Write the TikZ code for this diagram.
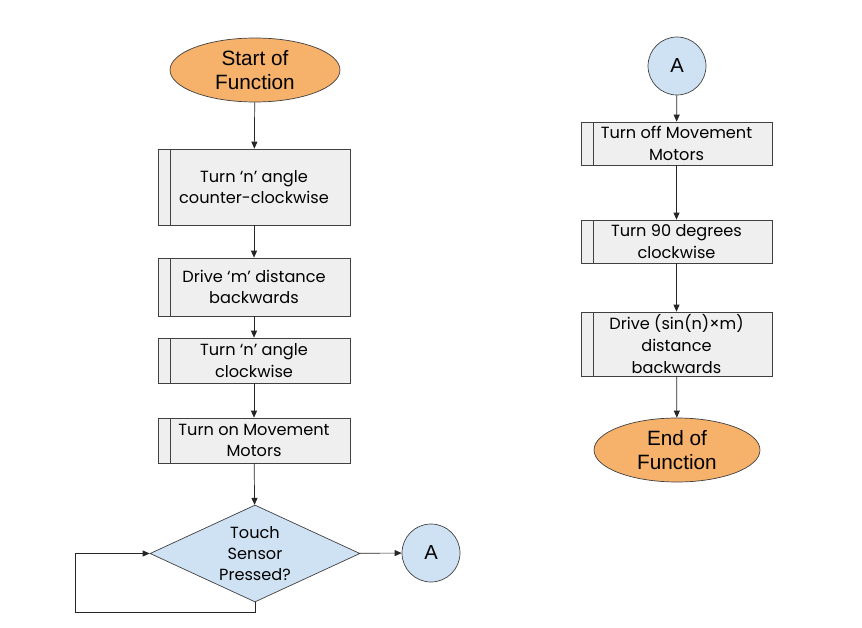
\documentclass[tikz,border=0pt]{standalone}
\usepackage{fontspec}
\setmainfont{Liberation Sans}
\newfontfamily\boxfont{Poppins}
\usepackage{xcolor}
\usetikzlibrary{
    positioning,
    arrows.meta,
    shapes.geometric,
    shapes.misc,
}
\definecolor{termfill}{HTML}{F6B26B}
\definecolor{decfill}{HTML}{CFE2F3}
\definecolor{procfill}{HTML}{EFEFEF}
\definecolor{edge}{HTML}{404040}
\tikzset{
    % Node styles
    terminal/.style={ellipse, draw=edge, fill=termfill, inner sep=0pt,
                     align=center, font=\fontsize{11.8}{13.5}\selectfont},
    connector/.style={circle, draw=edge, fill=decfill, inner sep=0pt,
                      minimum size=1.16cm, font=\fontsize{11.5}{12}\selectfont},
    decision/.style={diamond, draw=edge, fill=decfill, inner sep=-3pt, aspect=2.16,
                     align=center, font=\boxfont\fontsize{9.2}{12}\selectfont},
    process/.style={rectangle, draw=edge, fill=procfill, inner sep=0pt,
                    align=center, font=\boxfont\fontsize{9.2}{12.3}\selectfont,
                    path picture={\draw[edge]
                      ([xshift=0.24cm]path picture bounding box.north west)
                      -- ([xshift=0.24cm]path picture bounding box.south west);}},
    % Arrow styles
    arrow/.style={-{Triangle[length=1.4mm, width=1.2mm]}, draw=black!85},
}

\begin{document}
\begin{tikzpicture}[x=0.02cm, y=-0.02cm]
    \useasboundingbox (0, 0) rectangle (862, 628);

    % Left column
    \node[terminal, minimum width=3.4cm, minimum height=1.28cm] (start) at (255, 70) {Start of\\Function};
    \node[process, minimum width=3.84cm, minimum height=1.52cm] (turnccw) at (254, 187) {Turn ‘n’ angle\\counter-clockwise};
    \node[process, minimum width=3.84cm, minimum height=1.16cm] (drive) at (254, 287) {Drive ‘m’ distance\\backwards};
    \node[process, minimum width=3.84cm, minimum height=0.9cm] (turncw) at (254, 360.5) {Turn ‘n’ angle\\clockwise};
    \node[process, minimum width=3.84cm, minimum height=0.9cm] (moton) at (254, 440.5) {Turn on Movement\\Motors};
    \node[decision, minimum width=4.2cm, minimum height=1.94cm] (touch) at (255, 553.5) {Touch\\Sensor\\Pressed?};
    \node[connector] (conA) at (431, 553) {A};
    \coordinate (loopbl) at (75, 612);

    % Right column
    \node[connector] (conB) at (677, 66) {A};
    \node[process, minimum width=3.82cm, minimum height=0.86cm] (motoff) at (676.5, 143.5) {Turn off Movement\\Motors};
    \node[process, minimum width=3.82cm, minimum height=0.86cm] (turn90) at (676.5, 241.5) {Turn 90 degrees\\clockwise};
    \node[process, minimum width=3.82cm, minimum height=1.28cm] (drivesin) at (676.5, 344) {Drive (sin(n)×m)\\distance\\backwards};
    \node[terminal, minimum width=3.32cm, minimum height=1.28cm] (stop) at (677, 450) {End of\\Function};

    % Arrows
    \draw[arrow] (start) -- (turnccw);
    \draw[arrow] (turnccw) -- (drive);
    \draw[arrow] (drive) -- (turncw);
    \draw[arrow] (turncw) -- (moton);
    \draw[arrow] (moton) -- (touch);
    \draw[arrow] (touch) -- (conA);
    \draw[arrow] (touch.south) |- (loopbl) |- (touch.west);
    \draw[arrow] (conB) -- (motoff);
    \draw[arrow] (motoff) -- (turn90);
    \draw[arrow] (turn90) -- (drivesin);
    \draw[arrow] (drivesin) -- (stop);
\end{tikzpicture}
\end{document}
